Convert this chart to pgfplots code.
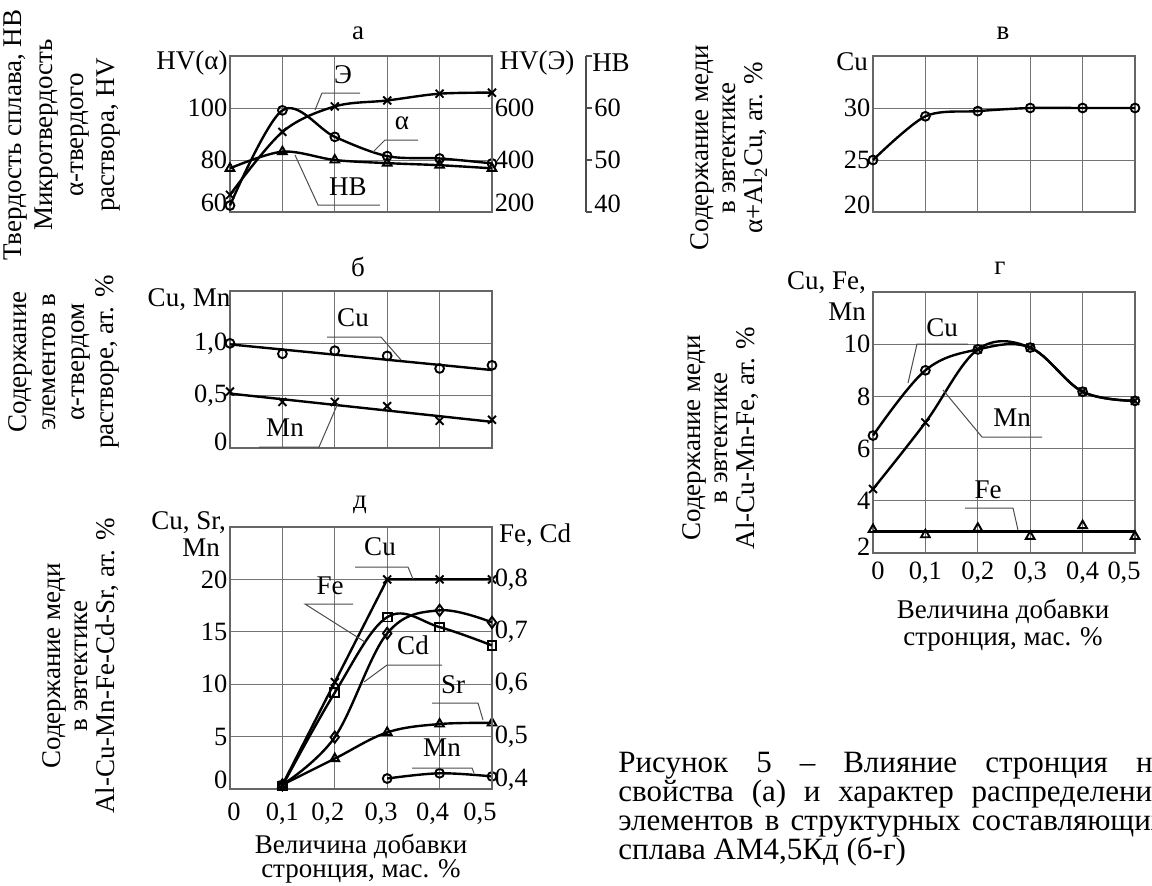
\documentclass[border=0pt]{standalone}
\usepackage{pgfplots}
\pgfplotsset{compat=1.18}
\usepackage{fontspec}
\setmainfont{Liberation Serif}
\newcommand{\tf}{\fontsize{13.2}{15}\selectfont}
\newcommand{\nf}{\fontsize{13.5}{15}\selectfont}
\newcommand{\lf}{\fontsize{13.5}{13.5}\selectfont}
\newcommand{\up}[2]{\raisebox{#1pt}{#2}}
\begin{document}
\begin{tikzpicture}
\useasboundingbox (0pt,0pt) rectangle (576pt,-442.5pt);
\clip (0pt,0pt) rectangle (576pt,-442.5pt);
\pgfplotsset{
  base/.style={
    scale only axis, width=131pt,
    xmin=0, xmax=0.5,
    xtick={0,0.1,0.2,0.3,0.4,0.5},
    xticklabels={},
    grid=major,
    grid style={black!55, line width=0.5pt},
    axis line style={black!60, line width=0.6pt},
    major tick length=0pt,
    tick label style={font=\tf},
    /pgf/number format/assume math mode=true,
    yticklabel style={inner sep=1.2pt},
    xticklabel style={inner sep=2pt},
    anchor=south west, clip=false,
  },
  over/.style={
    scale only axis, width=131pt, xmin=0, xmax=0.5,
    anchor=south west, hide x axis, clip=false,
    major tick length=0pt,
    tick label style={font=\tf},
    yticklabel style={inner sep=1.2pt},
    /pgf/number format/assume math mode=true,
    y axis line style={black!60, line width=0.6pt},
  },
  cur/.style={black, line width=1.2pt, mark options={solid, line width=0.95pt, fill=none}},
  mk/.style={black, only marks, mark options={solid, line width=0.95pt, fill=none}},
}
% ---------------- panel a ----------------
\begin{axis}[base, at={(115pt,-106pt)}, height=78pt, ymin=60, ymax=120,
  ytick={60,80,100}, yticklabels={\up{9}{60},80,100}]
\addplot[cur, smooth, tension=0.55, mark=o, mark size=2.2pt] coordinates {(0,62.5)(0.1,99.1)(0.2,88.9)(0.3,81.5)(0.4,80.6)(0.5,78.7)};
\end{axis}
\begin{axis}[over, at={(115pt,-106pt)}, height=78pt, ymin=200, ymax=800,
  axis y line*=right, ytick={200,400,600}, yticklabels={\up{9}{200},400,600}]
\addplot[cur, smooth, tension=0.55, mark=x, mark size=2.8pt] coordinates {(0,266)(0.1,508)(0.2,606)(0.3,629)(0.4,655)(0.5,659)};
\end{axis}
\begin{axis}[over, hide y axis, at={(115pt,-106pt)}, height=78pt, ymin=40, ymax=70]
\addplot[cur, smooth, tension=0.55, mark=triangle, mark size=2.5pt] coordinates {(0,48.4)(0.1,51.6)(0.2,50)(0.3,49.4)(0.4,49)(0.5,48.4)};
\end{axis}
\begin{axis}[scale only axis, width=4pt, height=78pt, anchor=south east, at={(293pt,-106pt)},
  xmin=0, xmax=1, ymin=40, ymax=70, hide x axis, axis y line*=right,
  ytick={40,50,60,70}, yticklabels={\up{8}{40},50,60,{}}, tick align=outside,
  major tick length=3pt, tick style={black!70, line width=0.6pt},
  y axis line style={black!70, line width=0.6pt},
  tick label style={font=\tf}, yticklabel style={inner sep=1pt},
  /pgf/number format/assume math mode=true]
\addplot[draw=none] coordinates {(0.5,50)};
\end{axis}
% ---------------- panel b ----------------
\begin{axis}[base, at={(115pt,-224pt)}, height=78.5pt, ymin=0, ymax=1.5,
  ytick={0,0.5,1}, yticklabels={\up{6}{0},{0,5},{1,0}}]
\addplot[mk, mark=o, mark size=2.2pt] coordinates {(0,1.0)(0.1,0.90)(0.2,0.93)(0.3,0.88)(0.4,0.76)(0.5,0.79)};
\addplot[cur] coordinates {(0,0.99)(0.5,0.745)};
\addplot[mk, mark=x, mark size=2.8pt] coordinates {(0,0.54)(0.1,0.44)(0.2,0.44)(0.3,0.40)(0.4,0.26)(0.5,0.27)};
\addplot[cur] coordinates {(0,0.52)(0.5,0.25)};
\end{axis}
% ---------------- panel d ----------------
\begin{axis}[base, at={(115pt,-394.5pt)}, height=131pt, ymin=0, ymax=25,
  ytick={0,5,10,15,20}, yticklabels={\up{9}{0},5,10,15,20},
  xticklabel style={yshift=-5pt},
  xticklabels={\hspace*{4pt}0,{0,1},{0,2\hspace*{7pt}},{0,3\hspace*{6pt}},{0,4\hspace*{7pt}},{0,5\hspace*{12pt}}}]
\addplot[cur, mark=x, mark size=2.8pt] coordinates {(0.1,0.4)(0.2,10.2)(0.3,20)(0.4,20)(0.5,20)};
\addplot[cur, smooth, tension=0.6, mark=triangle, mark size=2.5pt] coordinates {(0.1,0.4)(0.2,2.9)(0.3,5.4)(0.4,6.2)(0.5,6.3)};
\addplot[cur, smooth, tension=0.6, mark=o, mark size=2.2pt] coordinates {(0.3,1.0)(0.4,1.5)(0.5,1.2)};
\end{axis}
\begin{axis}[over, at={(115pt,-394.5pt)}, height=131pt, ymin=0.4, ymax=0.9,
  axis y line*=right, ytick={0.4,0.5,0.6,0.7,0.8}, yticklabels={\up{11}{0,4},{0,5},{0,6},{0,7},{0,8}}]
\addplot[cur, smooth, tension=0.6, mark=square, mark size=2.2pt] coordinates {(0.1,0.406)(0.2,0.584)(0.3,0.728)(0.4,0.709)(0.5,0.674)};
\addplot[cur, smooth, tension=0.6, mark=diamond, mark size=2.8pt] coordinates {(0.1,0.408)(0.2,0.499)(0.3,0.697)(0.4,0.741)(0.5,0.718)};
\end{axis}
% ---------------- panel v ----------------
\begin{axis}[base, at={(436.5pt,-106pt)}, height=78pt, ymin=20, ymax=35,
  ytick={20,25,30}, yticklabels={\up{7}{20},25,30}]
\addplot[cur, smooth, tension=0.5, mark=o, mark size=2.2pt] coordinates {(0,25)(0.1,29.2)(0.2,29.7)(0.3,30)(0.4,30)(0.5,30)};
\end{axis}
% ---------------- panel g ----------------
\begin{axis}[base, at={(436.5pt,-276.5pt)}, height=130.5pt, ymin=2, ymax=12,
  ytick={2,4,6,8,10}, yticklabels={\up{6}{2},4,6,8,10},
  xticklabel style={yshift=-2.5pt},
  xticklabels={\hspace*{5pt}0,{0,1},{0,2},{0,3},{0,4},{0,5\hspace*{11pt}}}]
\addplot[cur, smooth, tension=0.6, mark=o, mark size=2.2pt] coordinates {(0,6.5)(0.1,9.0)(0.2,9.8)(0.3,9.87)(0.4,8.18)(0.5,7.83)};
\addplot[cur, smooth, tension=0.6, mark=x, mark size=2.8pt] coordinates {(0,4.45)(0.1,7.0)(0.2,9.8)(0.3,9.87)(0.4,8.18)(0.5,7.83)};
\addplot[mk, mark=triangle, mark size=2.5pt] coordinates {(0,2.9)(0.1,2.7)(0.2,2.95)(0.3,2.64)(0.4,3.05)(0.5,2.64)};
\addplot[cur] coordinates {(0,2.83)(0.5,2.83)};
\end{axis}
% ---------------- texts and leaders ----------------
\begin{scope}[x=0.5pt, y=-0.5pt, lead/.style={black!70, line width=0.5pt}]
% panel a
\node[font=\lf] at (358,33) {а};
\node[font=\nf] at (192,63) {HV(α)};
\node[font=\nf] at (537,63) {HV(Э)};
\node[font=\nf] at (611,63) {HB};
\node[font=\nf] at (343,75) {Э};
\node[font=\nf] at (402,123) {α};
\node[font=\nf] at (348,187) {HB};
\draw[lead] (315,110)--(322,93)--(360,93);
\draw[lead] (373,152)--(385,140)--(418,140);
\draw[lead] (295,155)--(318,205)--(380,205);
\node[rotate=90, align=center, font=\fontsize{13.5}{15.5}\selectfont] at (62,135)
  {Твердость сплава, HB\\Микротвердость\\α-твердого\\раствора, HV};
% panel b
\node[font=\lf] at (358,267) {б};
\node[font=\nf] at (189,300) {Cu, Mn};
\node[font=\nf] at (353,318) {Cu};
\draw[lead] (327,337)--(381,337)--(401,360);
\node[font=\nf] at (285,428) {Mn};
\draw[lead] (338,403)--(319,447)--(259,447);
\node[rotate=90, align=center, font=\fontsize{13.5}{14.5}\selectfont] at (64,362)
  {Содержание\\элементов в\\α-твердом\\растворе, ат. \%};
% panel d
\node[font=\lf] at (360,505) {д};
\node[font=\nf, anchor=east] at (233,523) {Cu, Sr,};
\node[font=\nf, anchor=east] at (227,548) {Mn};
\node[font=\nf] at (535,535) {Fe, Cd};
\node[font=\nf] at (380,547) {Cu};
\draw[lead] (355,567)--(408,567)--(413,579);
\node[font=\nf] at (330,586) {Fe};
\draw[lead] (353,604)--(305,604)--(365,642);
\node[font=\nf] at (413,645) {Cd};
\draw[lead] (442,665)--(387,665)--(364,682);
\node[font=\nf] at (453,685) {Sr};
\draw[lead] (432,703)--(478,703)--(483,720);
\node[font=\nf] at (442,748) {Mn};
\draw[lead] (412,768)--(472,768)--(474,773);
\node[align=center, font=\fontsize{13.5}{12}\selectfont] at (361,859)
  {Величина добавки\\стронция, мас. \%};
\node[rotate=90, align=center, font=\fontsize{13.5}{13.5}\selectfont] at (81,666)
  {Содержание меди\\в эвтектике\\Al-Cu-Mn-Fe-Cd-Sr, ат. \%};
% panel v
\node[font=\lf] at (1003,33) {в};
\node[font=\nf] at (852,62) {Cu};
\node[rotate=90, align=center, font=\fontsize{13.5}{13.5}\selectfont] at (729,148)
  {Содержание меди\\в эвтектике\\α+Al\textsubscript{2}Cu, ат. \%};
% panel g
\node[font=\lf] at (1000,268) {г};
\node[font=\nf, anchor=east] at (873,283) {Cu, Fe,};
\node[font=\nf, anchor=east] at (873,312) {Mn};
\node[font=\nf] at (942,328) {Cu};
\draw[lead] (968,344)--(917,344)--(908,383);
\node[font=\nf] at (1012,418) {Mn};
\draw[lead] (943,390)--(982,437)--(1042,437);
\node[font=\nf] at (988,490) {Fe};
\draw[lead] (965,508)--(1013,508)--(1018,530);
\node[align=center, font=\fontsize{13.5}{13.5}\selectfont] at (1003,625)
  {Величина добавки\\стронция, мас. \%};
\node[rotate=90, align=center, font=\fontsize{13.5}{13.5}\selectfont] at (721,438)
  {Содержание меди\\в эвтектике\\Al-Cu-Mn-Fe, ат. \%};
% caption
\node[anchor=base west, inner sep=0pt] at (618,772)
  {\parbox[t]{274pt}{\fontsize{15.5}{14.5}\selectfont\lineskiplimit=-20pt
   Рисунок 5 – Влияние стронция на\linebreak
   свойства (а) и характер распределения\linebreak
   элементов в структурных составляющих\linebreak
   сплава АМ4,5Кд (б-г)}};
\end{scope}
\end{tikzpicture}
\end{document}
